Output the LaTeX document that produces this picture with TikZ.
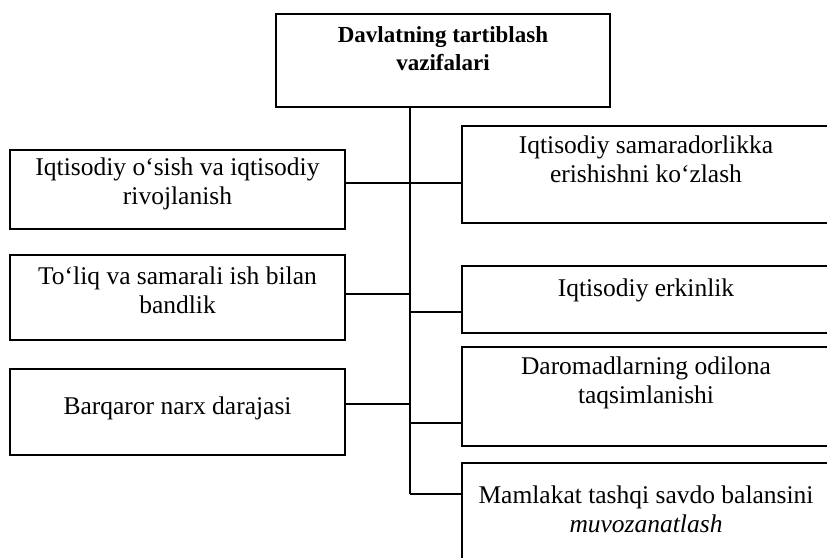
\documentclass[tikz,border=0pt]{standalone}
\usepackage{fontspec}
\setmainfont{Liberation Serif}

\tikzset{
  blok/.style={draw, line width=1.6pt, rectangle, inner sep=0pt},
  matn/.style={align=center, inner sep=0pt, font=\fontsize{25.5}{29}\selectfont},
  sarlavha/.style={align=center, inner sep=0pt, font=\fontsize{23}{28}\selectfont\bfseries},
  ulash/.style={line width=1.2pt}
}

\begin{document}
\begin{tikzpicture}[x=1pt,y=1pt]
  \useasboundingbox (0,0) rectangle (827,557);
  \clip (0,0) rectangle (827,557);
  \node[blok, minimum width=334pt, minimum height=93pt] (vazifa) at (443,496.5) {};
  \node[sarlavha] (vazifaT) at (443,508) {Davlatning tartiblash\\vazifalari};
  \node[blok, minimum width=335pt, minimum height=79pt] (osish) at (177.5,367.5) {};
  \node[matn] (osishT) at (177.5,373) {Iqtisodiy o‘sish va iqtisodiy\\rivojlanish};
  \node[blok, minimum width=335pt, minimum height=85pt] (bandlik) at (177.5,259.5) {};
  \node[matn] (bandlikT) at (177.5,267) {To‘liq va samarali ish bilan\\bandlik};
  \node[blok, minimum width=335pt, minimum height=86pt] (narx) at (177.5,145) {};
  \node[matn] (narxT) at (177.5,149) {Barqaror narx darajasi};
  \node[blok, minimum width=368pt, minimum height=97pt] (samara) at (646,382.5) {};
  \node[matn] (samaraT) at (646,398) {Iqtisodiy samaradorlikka\\erishishni ko‘zlash};
  \node[blok, minimum width=368pt, minimum height=67pt] (erkinlik) at (646,257.5) {};
  \node[matn] (erkinlikT) at (646,267) {Iqtisodiy erkinlik};
  \node[blok, minimum width=368pt, minimum height=99pt] (daromad) at (646,160.5) {};
  \node[matn] (daromadT) at (646,174) {Daromadlarning odilona\\taqsimlanishi};
  \node[blok, minimum width=368pt, minimum height=97pt] (savdo) at (646,45.5) {};
  \node[matn] (savdoT) at (646,48) {Mamlakat tashqi savdo balansini\\\textit{muvozanatlash}};
  \coordinate (t1) at (410,374);
  \coordinate (t2) at (410,263);
  \coordinate (t3) at (410,153);
  \coordinate (t4) at (410,245);
  \coordinate (t5) at (410,134);
  \coordinate (t6) at (410,63);
  \draw[ulash] (vazifa.south -| t1) -- (t6);
  \draw[ulash] (osish.east |- t1) -- (samara.west |- t1);
  \draw[ulash] (bandlik.east |- t2) -- (t2);
  \draw[ulash] (narx.east |- t3) -- (t3);
  \draw[ulash] (t4) -- (erkinlik.west |- t4);
  \draw[ulash] (t5) -- (daromad.west |- t5);
  \draw[ulash] (t6) -- (savdo.west |- t6);
\end{tikzpicture}
\end{document}
